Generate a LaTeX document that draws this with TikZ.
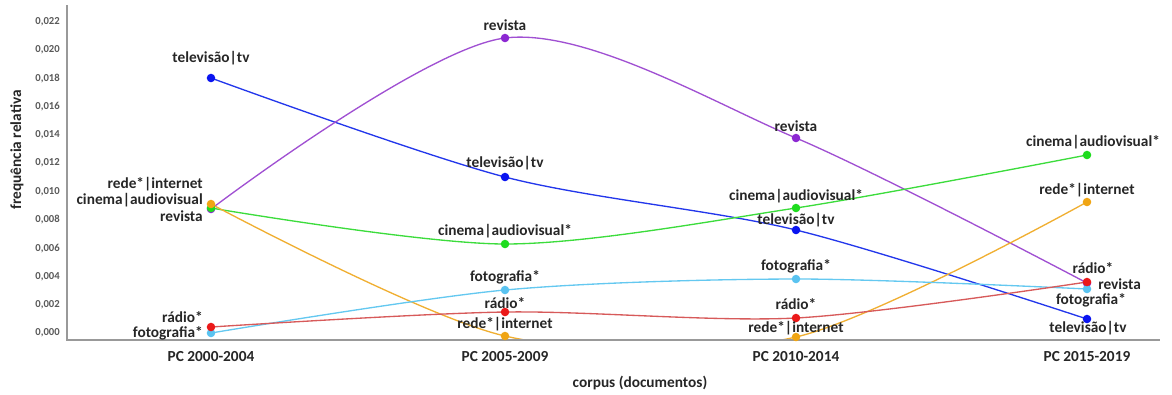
\documentclass[tikz,border=0pt]{standalone}
\usepackage{fontspec}
\setmainfont{Carlito}
\begin{document}
\begin{tikzpicture}[x=0.75pt,y=-0.75pt,
  lab/.style={font=\fontsize{11.5}{13}\selectfont\bfseries, text=black!85, inner sep=0pt},
  tick/.style={font=\fontsize{8}{9}\selectfont\bfseries, text=black!65, anchor=east, inner sep=0pt},
  axisline/.style={draw=black!40, line width=1.3pt},
  series/.style={line width=1pt, smooth, tension=0.5},
  dot/.style={radius=3.2pt}]
\definecolor{ctv}{RGB}{35,55,235}
\definecolor{ctvd}{RGB}{10,20,240}
\definecolor{crev}{RGB}{160,80,210}
\definecolor{crevd}{RGB}{140,40,210}
\definecolor{ccin}{RGB}{60,220,60}
\definecolor{ccind}{RGB}{30,220,30}
\definecolor{cred}{RGB}{240,175,50}
\definecolor{credd}{RGB}{240,165,20}
\definecolor{cfot}{RGB}{100,200,240}
\definecolor{cfotd}{RGB}{90,195,240}
\definecolor{crad}{RGB}{215,90,90}
\definecolor{cradd}{RGB}{235,25,25}
\useasboundingbox (0,0) rectangle (1172,394);

% data coordinates
\coordinate (tv1) at (211,78);  \coordinate (tv2) at (505,177); \coordinate (tv3) at (796,230); \coordinate (tv4) at (1087,319);
\coordinate (re1) at (211,209); \coordinate (re2) at (505,38);  \coordinate (re3) at (796,138); \coordinate (re4) at (1087,283);
\coordinate (ci1) at (211,208); \coordinate (ci2) at (505,244); \coordinate (ci3) at (796,208); \coordinate (ci4) at (1087,155);
\coordinate (rd1) at (211,204); \coordinate (rd2) at (505,336); \coordinate (rd3) at (796,337); \coordinate (rd4) at (1087,202);
\coordinate (fo1) at (211,333); \coordinate (fo2) at (505,290); \coordinate (fo3) at (796,279); \coordinate (fo4) at (1087,289);
\coordinate (ra1) at (211,327); \coordinate (ra2) at (505,312); \coordinate (ra3) at (796,318); \coordinate (ra4) at (1087,282);

% curves (clipped to the plot area)
\begin{scope}
\clip (68,0) rectangle (1172,339);
\draw[series, ctv]  plot coordinates {(tv1) (tv2) (tv3) (tv4)};
\draw[series, crev] plot coordinates {(re1) (re2) (re3) (re4)};
\draw[series, ccin] plot coordinates {(ci1) (ci2) (ci3) (ci4)};
\draw[series, cred] plot coordinates {(rd1) (rd2) (rd3) (rd4)};
\draw[series, cfot] plot coordinates {(fo1) (fo2) (fo3) (fo4)};
\draw[series, crad] plot coordinates {(ra1) (ra2) (ra3) (ra4)};
\end{scope}

% axes
\coordinate (ytop) at (67,5);
\coordinate (orig) at (67,340);
\coordinate (xend) at (1160,340);
\draw[axisline] (ytop) -- (orig) -- (xend);

% y ticks
\foreach \i/\t in {0/{0,000},1/{0,002},2/{0,004},3/{0,006},4/{0,008},5/{0,010},6/{0,012},7/{0,014},8/{0,016},9/{0,018},10/{0,020},11/{0,022}}
  \node[tick] (t\i) at (60,333-28.3*\i) {\t};

\node[lab, rotate=90] (ytitle) at (17,150) {frequência relativa};
\node[lab] (xtitle) at (640,383) {corpus (documentos)};

\node[lab] (c1) at (211,357) {PC 2000-2004};
\node[lab] (c2) at (505,357) {PC 2005-2009};
\node[lab] (c3) at (796,357) {PC 2010-2014};
\node[lab] (c4) at (1087,357) {PC 2015-2019};

% markers
\foreach \k in {1,2,3,4} {
  \fill[ctvd]  (tv\k) circle[dot];
  \fill[crevd] (re\k) circle[dot];
  \fill[ccind] (ci\k) circle[dot];
  \fill[credd] (rd\k) circle[dot];
  \fill[cfotd] (fo\k) circle[dot];
  \fill[cradd] (ra\k) circle[dot];
}

% labels column 1
\node[lab] (ltv1) at (211,58) {televisão|tv};
\node[lab, anchor=east] (lrd1) at (203,184) {rede*|internet};
\node[lab, anchor=east] (lci1) at (203,200) {cinema|audiovisual};
\node[lab, anchor=east] (lre1) at (203,216) {revista};
\node[lab, anchor=east] (lra1) at (203,317) {rádio*};
\node[lab, anchor=east] (lfo1) at (203,333) {fotografia*};

% labels column 2
\node[lab] (lre2) at (505,25) {revista};
\node[lab] (ltv2) at (505,163) {televisão|tv};
\node[lab] (lci2) at (505,231) {cinema|audiovisual*};
\node[lab] (lfo2) at (505,277) {fotografia*};
\node[lab] (lra2) at (505,303) {rádio*};
\node[lab] (lrd2) at (505,324) {rede*|internet};

% labels column 3
\node[lab] (lre3) at (796,126) {revista};
\node[lab] (lci3) at (796,196) {cinema|audiovisual*};
\node[lab] (ltv3) at (796,220) {televisão|tv};
\node[lab] (lfo3) at (796,266) {fotografia*};
\node[lab] (lra3) at (796,304) {rádio*};
\node[lab] (lrd3) at (796,328) {rede*|internet};

% labels column 4
\node[lab] (lci4) at (1093,142) {cinema|audiovisual*};
\node[lab] (lrd4) at (1087,190) {rede*|internet};
\node[lab] (lra4) at (1093,268) {rádio*};
\node[lab, anchor=west] (lre4) at (1098,284) {revista};
\node[lab] (lfo4) at (1091,300) {fotografia*};
\node[lab] (ltv4) at (1088,328) {televisão|tv};
\end{tikzpicture}
\end{document}
